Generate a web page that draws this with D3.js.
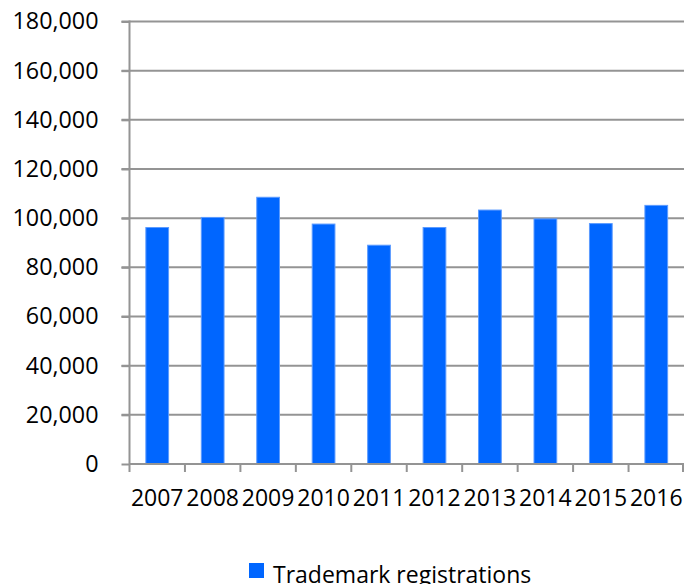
<!DOCTYPE html>
<html>
<head>
<meta charset="utf-8">
<script src="https://cdn.jsdelivr.net/npm/d3@7"></script>
<style>
  html, body { margin: 0; padding: 0; background: #fff; }
  svg { display: block; }
  text { font-family: "Open Sans", "Liberation Sans", sans-serif; fill: #000; }
</style>
</head>
<body>
<svg id="chart" width="684" height="584"></svg>
<script>
const years = ["2007","2008","2009","2010","2011","2012","2013","2014","2015","2016"];
const registrations = [96200, 100300, 108500, 97600, 89000, 96200, 103300, 99700, 97800, 105200];
const yTicks = [0, 20000, 40000, 60000, 80000, 100000, 120000, 140000, 160000, 180000];
const seriesName = "Trademark registrations";

const svg = d3.select("#chart");
const pLeft = 129.5, pRight = 684, pTop = 21.5, pBottom = 464;

const x = d3.scaleBand().domain(years).range([pLeft, pRight]).paddingInner(0.59).paddingOuter(0.295);
const y = d3.scaleLinear().domain([0, 180000]).range([pBottom, pTop]);
const step = x.step();
const fmt = d3.format(",");

// gridlines
svg.append("g").selectAll("line").data(yTicks.filter(d => d > 0)).join("line")
  .attr("x1", pLeft - 8).attr("x2", pRight)
  .attr("y1", d => y(d)).attr("y2", d => y(d))
  .attr("stroke", "#949494").attr("stroke-width", 2);

// bars
svg.append("g").selectAll("rect").data(years).join("rect")
  .attr("x", d => x(d))
  .attr("width", x.bandwidth())
  .attr("y", (d, i) => y(registrations[i]))
  .attr("height", (d, i) => pBottom - y(registrations[i]))
  .attr("fill", "#0066ff")
  .attr("stroke", "#5c9bff").attr("stroke-width", 1);

// y axis
const yAxis = d3.axisLeft(y).tickValues(yTicks).tickFormat(fmt).tickSize(8).tickPadding(23);
const gy = svg.append("g").attr("transform", `translate(${pLeft},0)`).call(yAxis);
gy.select(".domain").remove();
gy.selectAll(".tick line").attr("stroke", "#949494").attr("stroke-width", 2);
gy.selectAll(".tick text").attr("font-size", 23.3).attr("font-family", "Open Sans, sans-serif").attr("fill", "#000");
gy.append("line").attr("x1", 0).attr("x2", 0).attr("y1", pTop - 1).attr("y2", pBottom + 8)
  .attr("stroke", "#949494").attr("stroke-width", 2);

// x axis
svg.append("line").attr("x1", pLeft).attr("x2", pRight).attr("y1", pBottom).attr("y2", pBottom)
  .attr("stroke", "#949494").attr("stroke-width", 2);
const xb = years.map((d, i) => pLeft + i * step);
svg.append("g").selectAll("line").data(xb.slice(1).concat([pRight - 1])).join("line")
  .attr("x1", d => d).attr("x2", d => d).attr("y1", pBottom).attr("y2", pBottom + 8)
  .attr("stroke", "#949494").attr("stroke-width", 2);
svg.append("g").selectAll("text").data(years).join("text")
  .attr("x", d => x(d) + x.bandwidth() / 2)
  .attr("y", 506)
  .attr("text-anchor", "middle")
  .attr("font-size", 23)
  .text(d => d);

// legend
const lg = svg.append("g");
lg.append("rect").attr("x", 249).attr("y", 563).attr("width", 15).attr("height", 15).attr("fill", "#0066ff");
lg.append("text").attr("x", 273).attr("y", 583).attr("font-size", 23).text(seriesName);
</script>
</body>
</html>
